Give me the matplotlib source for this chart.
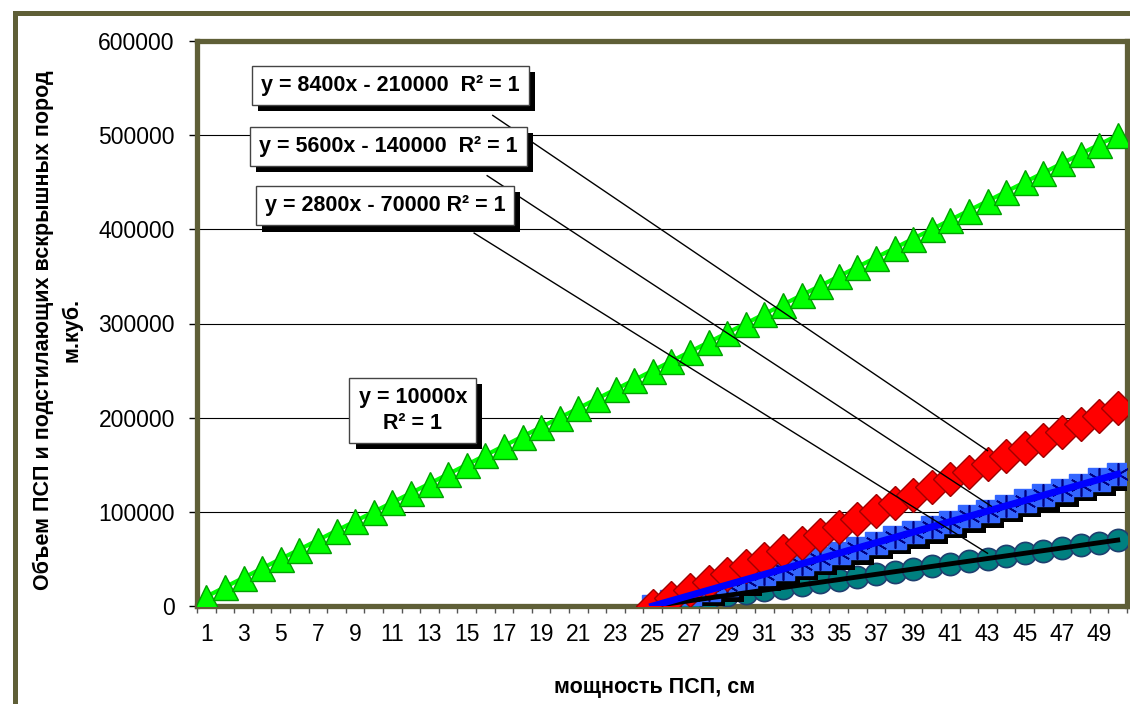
import numpy as np
import matplotlib
matplotlib.use("Agg")
import matplotlib.pyplot as plt
import matplotlib.patheffects as pe
from matplotlib.patches import Rectangle

plt.rcParams.update({
    "font.family": ["Liberation Sans", "DejaVu Sans"],
    "font.size": 16,
})

# data
x_all = np.arange(1, 51)
x_sub = np.arange(25, 51)
green_y = 10000 * x_all                 # y = 10000x
red_y = 8400 * x_sub - 210000           # y = 8400x - 210000
blue_y = 5600 * x_sub - 140000          # y = 5600x - 140000
teal_y = 2800 * x_sub - 70000           # y = 2800x - 70000

box_texts = [
    "y = 8400x - 210000  R² = 1",
    "y = 5600x - 140000  R² = 1",
    "y = 2800x - 70000 R² = 1",
    "y = 10000x\nR² = 1",
]
xlabel = "мощность ПСП, см"
ylabel = "Объем ПСП и подстилающих вскрышных пород\nм.куб."

OLIVE = "#5f5f37"

W, H = 1130, 704
fig = plt.figure(figsize=(W / 100, H / 100), dpi=100)
fig.patch.set_facecolor("white")
ax = fig.add_axes([197 / W, 1 - 606 / H, (1127 - 197) / W, (606 - 41) / H])

# outer chart frame
fig.patches.append(Rectangle((15 / W, -0.1), 1.2, 1.1 - 13 / H, transform=fig.transFigure,
                             fill=False, edgecolor=OLIVE, lw=3.6, zorder=0))

# gridlines
for v in range(0, 600001, 100000):
    ax.axhline(v, color="black", lw=0.8, zorder=1)

# teal circles + black trendline
ax.plot(x_sub, teal_y, "o", ms=16, mfc="#008080", mec="#1f3f6f", mew=1.2, zorder=3)
ax.plot(x_sub, teal_y, "-", color="black", lw=3.5, zorder=6)

# blue squares with asterisk, dropped shadow
shadow = [pe.SimplePatchShadow(offset=(4, -4), shadow_rgbFace="black", alpha=1.0), pe.Normal()]
ax.plot(x_sub, blue_y, "s", ms=16, mfc="#3366ff", mec="#3366ff", zorder=4, path_effects=shadow)
ax.plot(x_sub, blue_y, ls="none", marker=(6, 2, 0), ms=16, mec="#000080", mew=1.2, zorder=4.1)
ax.plot(x_sub, blue_y, "-", color="#0000ff", lw=5, zorder=6)

# red diamonds
ax.plot(x_sub, red_y, "-", color="red", lw=2, zorder=5)
ax.plot(x_sub, red_y, "D", ms=17, mfc="red", mec="#a00000", mew=1.0, zorder=5)

# green triangles
ax.plot(x_all, green_y, "-", color="#00ff00", lw=3, zorder=5)
ax.plot(x_all, green_y, "^", ms=18, mfc="#00ff00", mec="#00a000", mew=1.0, zorder=5)

ax.set_xlim(0.5, 50.5)
ax.set_ylim(0, 600000)
ax.set_xticks(np.arange(1, 51, 2))
ax.set_xticklabels([str(i) for i in range(1, 51, 2)])
ax.set_xticks(np.arange(0.5, 51, 1), minor=True)
ax.tick_params(axis="x", which="major", length=0, pad=12, labelsize=16.5)
ax.tick_params(axis="x", which="minor", length=5, color="#555555", width=1)
ax.set_yticks(range(0, 600001, 100000))
ax.tick_params(axis="y", length=6, color="black", width=1, pad=10, labelsize=16.5)
for s in ax.spines.values():
    s.set_color(OLIVE)
    s.set_linewidth(3.8)

# trend line labels
box_style = dict(boxstyle="square,pad=0.42", fc="white", ec="#444444", lw=1)
box_pos = [(10.9, 553000), (10.8, 488000), (10.6, 425000), (12.1, 208000)]
line_from = [(16.4, 521000), (16.1, 457000), (15.4, 396000)]
line_to = [(43.0, 165000), (43.2, 106000), (43.0, 56000)]
for (x0, y0), (x1, y1) in zip(line_from, line_to):
    ax.plot([x0, x1], [y0, y1], color="black", lw=1, zorder=7)
for txt, (bx, by) in zip(box_texts, box_pos):
    t = ax.text(bx, by, txt, ha="center", va="center", fontsize=15.5, fontweight="bold",
                bbox=box_style, zorder=8, linespacing=1.3)
    t.get_bbox_patch().set_path_effects(
        [pe.SimplePatchShadow(offset=(4.5, -4.5), shadow_rgbFace="black", alpha=1.0), pe.Normal()])

fig.text(655 / W, 1 - 688 / H, xlabel, ha="center", va="center", fontsize=15.5, fontweight="bold")
fig.text(58 / W, 1 - 330 / H, ylabel, ha="center", va="center", rotation=90,
         fontsize=15.5, fontweight="bold", linespacing=1.45)

fig.savefig("out.png", dpi=100)
